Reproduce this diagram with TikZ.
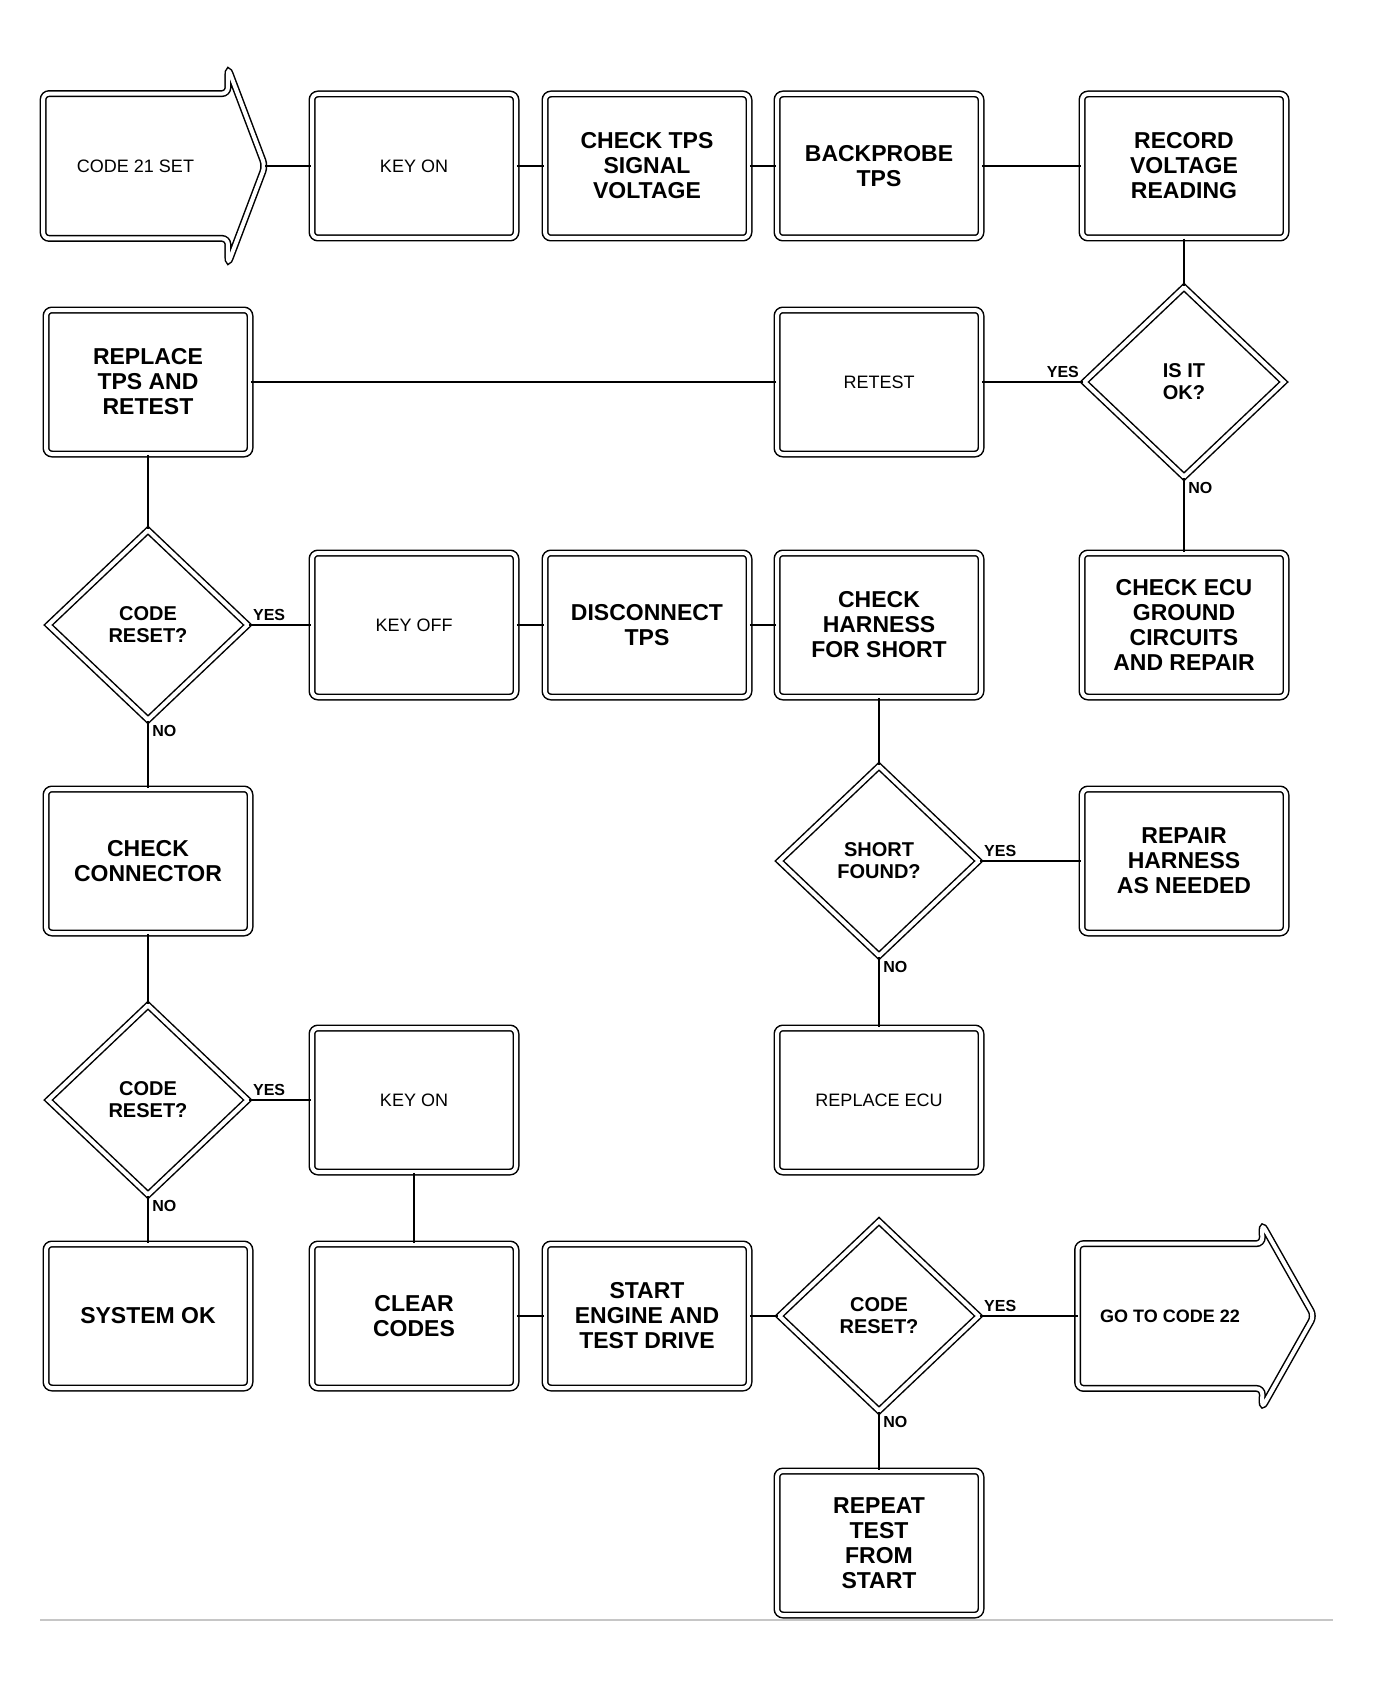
\documentclass[tikz,border=0pt]{standalone}
\usepackage{fontspec}
\setmainfont{Liberation Sans}
\usetikzlibrary{shapes.geometric}
\begin{document}
\begin{tikzpicture}[x=0.5pt,y=-0.5pt,
  frame/.style={draw, double, double distance=2pt, line width=0.75pt, rounded corners=3pt},
  box/.style={frame, minimum width=102pt, minimum height=72pt, align=center, inner sep=2pt,
    font=\bfseries\fontsize{11.5}{12.5}\selectfont},
  lightbox/.style={box, font=\fontsize{9}{10}\selectfont},
  plainbox/.style={draw=none, minimum width=92pt, minimum height=72pt, align=center, inner sep=2pt},
  dia/.style={diamond, draw, double, double distance=2pt, line width=0.75pt, minimum width=100pt,
    minimum height=95pt, inner sep=0pt, align=center, font=\bfseries\fontsize{10}{11}\selectfont},
  conn/.style={draw, line width=0.8pt},
  lab/.style={font=\bfseries\fontsize{8}{9}\selectfont, inner sep=2pt}]
\useasboundingbox (0,0) rectangle (1375,1696);
\fill[white] (0,0) rectangle (1375,1696);

% ---------- row 1
\node[plainbox, font=\fontsize{9}{10}\selectfont] (A) at (135.5,166) {CODE 21 SET};
\coordinate (Atop) at (228,68);
\coordinate (Atip) at (265,166);
\coordinate (Abot) at (228,264);
\draw[frame] (A.north west) -- (A.north east) -- (Atop) -- (Atip) -- (Abot) -- (A.south east) -- (A.south west) -- cycle;
\node[lightbox] (B) at (414,166) {KEY ON};
\node[box] (C) at (647,166) {CHECK TPS\\SIGNAL\\VOLTAGE};
\node[box] (D) at (879,166) {BACKPROBE\\TPS};
\node[box] (E) at (1184,166) {RECORD\\VOLTAGE\\READING};

% ---------- row 2
\node[box] (F) at (148,382) {REPLACE\\TPS AND\\RETEST};
\node[lightbox] (G) at (879,382) {RETEST};
\node[dia] (H) at (1184,382) {IS IT\\OK?};

% ---------- row 3
\node[dia] (I) at (148,625) {CODE\\RESET?};
\node[lightbox] (J) at (414,625) {KEY OFF};
\node[box] (K) at (647,625) {DISCONNECT\\TPS};
\node[box] (L) at (879,625) {CHECK\\HARNESS\\FOR SHORT};
\node[box] (M) at (1184,625) {CHECK ECU\\GROUND\\CIRCUITS\\AND REPAIR};

% ---------- row 4
\node[box] (N) at (148,861) {CHECK\\CONNECTOR};
\node[dia] (O) at (879,861) {SHORT\\FOUND?};
\node[box] (P) at (1184,861) {REPAIR\\HARNESS\\AS NEEDED};

% ---------- row 5
\node[dia] (Q) at (148,1100) {CODE\\RESET?};
\node[lightbox] (R) at (414,1100) {KEY ON};
\node[lightbox] (S) at (879,1100) {REPLACE ECU};

% ---------- row 6
\node[box] (T) at (148,1316) {SYSTEM OK};
\node[box] (U) at (414,1316) {CLEAR\\CODES};
\node[box] (V) at (647,1316) {START\\ENGINE AND\\TEST DRIVE};
\node[dia] (W) at (879,1316) {CODE\\RESET?};
\node[plainbox, font=\bfseries\fontsize{9}{10}\selectfont] (X) at (1170,1316) {GO TO CODE 22};
\coordinate (Xtop) at (1262,1224);
\coordinate (Xtip) at (1314,1316);
\coordinate (Xbot) at (1262,1408);
\draw[frame] (X.north west) -- (X.north east) -- (Xtop) -- (Xtip) -- (Xbot) -- (X.south east) -- (X.south west) -- cycle;

% ---------- row 7
\node[box] (Y) at (879,1543) {REPEAT\\TEST\\FROM\\START};

% ---------- connectors
\draw[conn] (Atip) -- (B);
\draw[conn] (B) -- (C);
\draw[conn] (C) -- (D);
\draw[conn] (D) -- (E);
\draw[conn] (E) -- (H);
\draw[conn] (H) -- (G);
\draw[conn] (G) -- (F);
\draw[conn] (F) -- (I);
\draw[conn] (I) -- (J);
\draw[conn] (J) -- (K);
\draw[conn] (K) -- (L);
\draw[conn] (H) -- (M);
\draw[conn] (L) -- (O);
\draw[conn] (O) -- (P);
\draw[conn] (O) -- (S);
\draw[conn] (I) -- (N);
\draw[conn] (N) -- (Q);
\draw[conn] (Q) -- (R);
\draw[conn] (Q) -- (T);
\draw[conn] (R) -- (U);
\draw[conn] (U) -- (V);
\draw[conn] (V) -- (W);
\draw[conn] (W) -- (X.west);
\draw[conn] (W) -- (Y);

% ---------- labels
\node[lab, above left] (lH1) at (H.west) {YES};
\node[lab, below right] (lH2) at (H.south) {NO};
\node[lab, above right] (lI1) at (I.east) {YES};
\node[lab, below right] (lI2) at (I.south) {NO};
\node[lab, above right] (lO1) at (O.east) {YES};
\node[lab, below right] (lO2) at (O.south) {NO};
\node[lab, above right] (lQ1) at (Q.east) {YES};
\node[lab, below right] (lQ2) at (Q.south) {NO};
\node[lab, above right] (lW1) at (W.east) {YES};
\node[lab, below right] (lW2) at (W.south) {NO};

% ---------- footer rule
\draw[gray!45, line width=0.6pt] (40,1620) -- (1333,1620);
\end{tikzpicture}
\end{document}
